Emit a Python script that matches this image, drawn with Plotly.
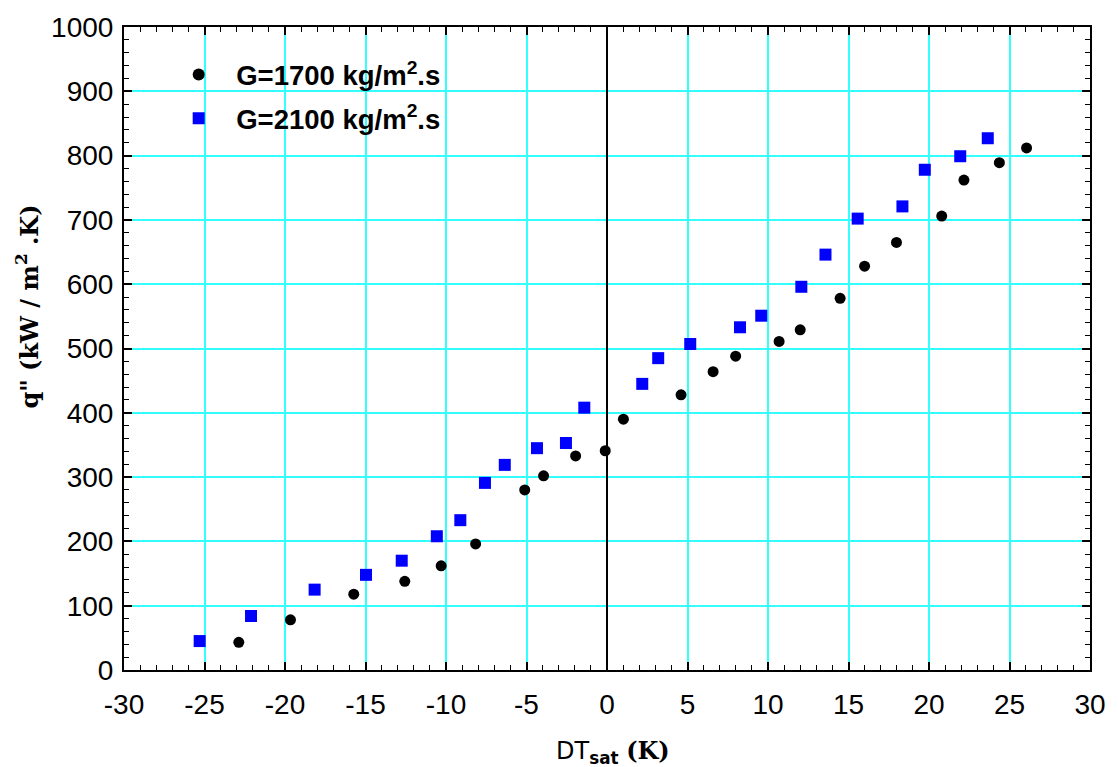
import plotly.graph_objects as go

# ---- data ----
dt_1700 = [-22.87, -19.66, -15.73, -12.56, -10.30, -8.16, -5.11, -3.94, -1.95, -0.11,
           1.02, 4.60, 6.59, 7.99, 10.69, 12.00, 14.48, 16.00, 17.98, 20.79, 22.17, 24.37, 26.06]
q_1700 = [43, 78, 118, 138, 162, 196, 280, 302, 333, 341,
          390, 428, 464, 488, 511, 529, 578, 628, 665, 706, 762, 789, 812]

dt_2100 = [-25.30, -22.11, -18.16, -14.97, -12.75, -10.57, -9.11, -7.58, -6.35, -4.35, -2.55, -1.41,
           2.19, 3.18, 5.17, 8.26, 9.58, 12.07, 13.57, 15.57, 18.35, 19.74, 21.94, 23.65]
q_2100 = [45, 84, 125, 148, 170, 208, 233, 291, 319, 345, 353, 408,
          445, 485, 507, 533, 551, 596, 646, 702, 721, 778, 799, 827]

name_1700 = "<b>G=1700 kg/m<sup>2</sup>.s</b>"
name_2100 = "<b>G=2100 kg/m<sup>2</sup>.s</b>"

x_ticks = [-30, -25, -20, -15, -10, -5, 0, 5, 10, 15, 20, 25, 30]
y_ticks = [0, 100, 200, 300, 400, 500, 600, 700, 800, 900, 1000]

x_title = ("<span style='font-family:DejaVu Sans'>DT</span>"
           "<sub><b>sat</b></sub> "
           "<span style='font-family:DejaVu Serif'><b>(K)</b></span>")
y_title = "<b>q\" (kW / m<sup>2</sup> .K)</b>"

fig = go.Figure()
fig.add_trace(go.Scatter(x=dt_1700, y=q_1700, mode="markers", name=name_1700,
                         legendgroup="a",
                         marker=dict(symbol="circle", size=11, color="black", line=dict(width=0))))
fig.add_trace(go.Scatter(x=dt_2100, y=q_2100, mode="markers", name=name_2100,
                         legendgroup="b",
                         marker=dict(symbol="square", size=12, color="#0000FF", line=dict(width=0))))

axis_common = dict(
    showline=True, linecolor="black", linewidth=2, mirror="allticks",
    ticks="inside", ticklen=8, tickwidth=1.5, tickcolor="black",
    showgrid=True, gridcolor="#33FFFF", gridwidth=1.5,
    tickfont=dict(family="Liberation Sans, Arial", size=28, color="black"),
)

fig.update_xaxes(
    range=[-30, 30], tickvals=x_ticks, ticktext=[str(v) for v in x_ticks],
    zeroline=True, zerolinecolor="black", zerolinewidth=1.5,
    ticklabelstandoff=8,
    minor=dict(dtick=1, ticks="inside", ticklen=5, tickwidth=1.2, tickcolor="black", showgrid=False),
    **axis_common,
)
fig.update_yaxes(
    range=[0, 1000], tickvals=y_ticks, ticktext=[str(v) for v in y_ticks],
    zeroline=False,
    ticklabelstandoff=3,
    minor=dict(dtick=20, ticks="inside", ticklen=5, tickwidth=1.2, tickcolor="black", showgrid=False),
    **axis_common,
)

fig.add_annotation(text=x_title, xref="paper", yref="paper", x=0.5067, y=-0.127,
                   xanchor="center", yanchor="middle", showarrow=False,
                   font=dict(family="DejaVu Sans", size=24, color="black"))
fig.add_annotation(text=y_title, xref="paper", yref="paper", x=-0.0999, y=0.566,
                   xanchor="center", yanchor="middle", showarrow=False, textangle=-90,
                   font=dict(family="DejaVu Serif", size=24, color="black"))

fig.update_layout(
    width=1118, height=767,
    margin=dict(l=124, r=23, t=24, b=97),
    paper_bgcolor="white", plot_bgcolor="white",
    showlegend=True,
    legend=dict(x=0.0385, y=0.964, xanchor="left", yanchor="top",
                bgcolor="rgba(0,0,0,0)", borderwidth=0,
                font=dict(family="Liberation Sans, Arial", size=27.5, color="black"),
                tracegroupgap=5, itemsizing="constant", itemwidth=65),
)

fig.write_html("out.html", config={"displayModeBar": False})

# remove the browser's default page margin so the figure sits at (0, 0)
with open("out.html", "r", encoding="utf-8") as f:
    html = f.read()
html = html.replace("<head>", "<head><style>html,body{margin:0;padding:0;overflow:hidden;}</style>", 1)
with open("out.html", "w", encoding="utf-8") as f:
    f.write(html)
